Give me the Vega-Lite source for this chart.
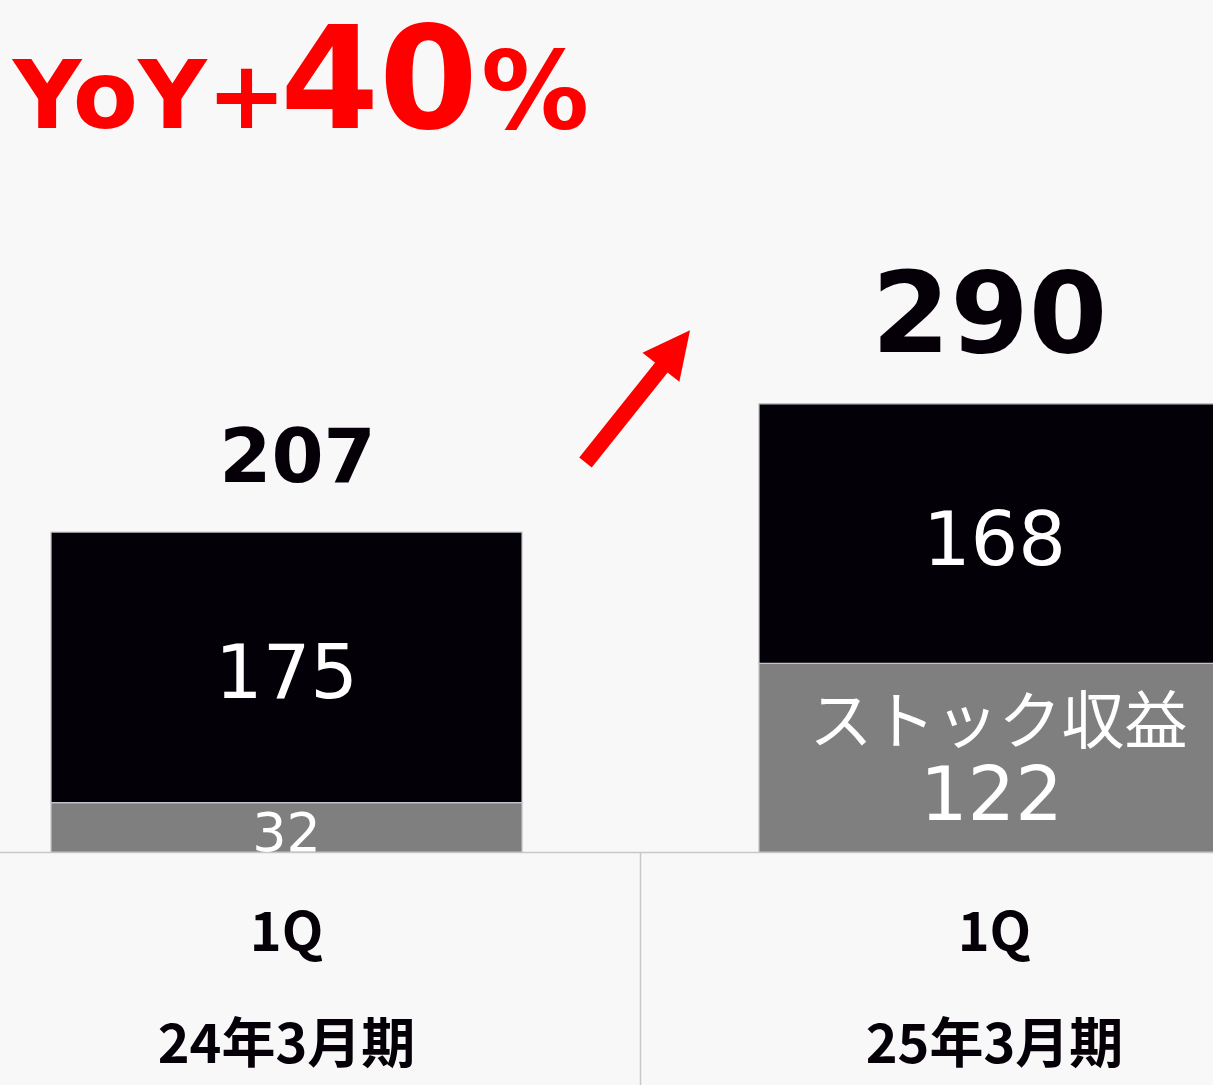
{
  "$schema": "https://vega.github.io/schema/vega-lite/v6.json",
  "width": 1213,
  "height": 852,
  "autosize": {"type": "none"},
  "padding": {"left": 0, "top": 0, "right": 0, "bottom": 233},
  "background": "#f8f8f8",
  "config": {"view": {"stroke": null}},
  "data": {
    "values": [
      {"fy": "24年3月期", "q": "1Q", "series": "ストック収益", "value": 32, "order": 1},
      {"fy": "24年3月期", "q": "1Q", "series": "フロー収益", "value": 175, "order": 2},
      {"fy": "25年3月期", "q": "1Q", "series": "ストック収益", "value": 122, "order": 1},
      {"fy": "25年3月期", "q": "1Q", "series": "フロー収益", "value": 168, "order": 2}
    ]
  },
  "layer": [
    {
      "encoding": {
        "x": {
          "field": "fy", "type": "nominal", "sort": ["24年3月期", "25年3月期"], "title": null,
          "scale": {"range": [-67.5, 1348.5], "paddingInner": 0.3347, "paddingOuter": 0.1674},
          "axis": {
            "labelExpr": "['1Q', datum.label]", "labelAngle": 0, "labelFontSize": 54,
            "labelFont": "Noto Sans CJK JP", "labelFontWeight": "bold", "labelColor": "#050008",
            "labelLineHeight": 112, "labelBaseline": "top", "labelPadding": 55,
            "ticks": false, "domainColor": "#c8c8cc", "domainWidth": 1.5, "labelLimit": 0, "grid": false
          }
        }
      },
      "layer": [
        {
          "mark": {"type": "bar", "stroke": "#c4c4c8", "strokeWidth": 1.2},
          "encoding": {
            "y": {"field": "value", "type": "quantitative", "stack": "zero", "axis": null, "scale": {"domain": [0, 551.3], "nice": false}},
            "color": {"field": "series", "type": "nominal", "legend": null, "scale": {"domain": ["ストック収益", "フロー収益"], "range": ["#7f7f7f", "#040008"]}},
            "order": {"field": "order", "type": "quantitative"}
          }
        },
        {
          "transform": [{"filter": "datum.fy === '24年3月期'"}],
          "mark": {"type": "text", "baseline": "alphabetic", "dy": -50, "dx": 11, "font": "DejaVu Sans", "fontWeight": "bold", "fontSize": 75, "color": "#050008"},
          "encoding": {
            "y": {"aggregate": "sum", "field": "value", "type": "quantitative", "axis": null, "scale": {"domain": [0, 551.3], "nice": false}},
            "text": {"aggregate": "sum", "field": "value", "type": "quantitative"}
          }
        },
        {
          "transform": [{"filter": "datum.fy === '25年3月期'"}],
          "mark": {"type": "text", "baseline": "alphabetic", "dy": -52, "dx": -5, "font": "DejaVu Sans", "fontWeight": "bold", "fontSize": 113, "color": "#050008"},
          "encoding": {
            "y": {"aggregate": "sum", "field": "value", "type": "quantitative", "axis": null, "scale": {"domain": [0, 551.3], "nice": false}},
            "text": {"aggregate": "sum", "field": "value", "type": "quantitative"}
          }
        },
        {
          "mark": {"type": "text", "baseline": "middle", "dy": 8, "font": "DejaVu Sans", "color": "#ffffff"},
          "encoding": {
            "y": {"field": "value", "type": "quantitative", "stack": "zero", "bandPosition": 0.5, "axis": null, "scale": {"domain": [0, 551.3], "nice": false}},
            "order": {"field": "order", "type": "quantitative"},
            "text": {"condition": {"test": "datum.fy === '25年3月期' && datum.series === 'ストック収益'", "value": ""}, "field": "value", "type": "quantitative"},
            "size": {"condition": {"test": "datum.value < 50", "value": 54}, "value": 75}
          }
        },
        {
          "transform": [{"filter": "datum.fy === '25年3月期' && datum.series === 'ストック収益'"}],
          "encoding": {
            "y": {"field": "value", "type": "quantitative", "stack": "zero", "bandPosition": 0.5, "axis": null, "scale": {"domain": [0, 551.3], "nice": false}}
          },
          "layer": [
            {
              "mark": {"type": "text", "baseline": "middle", "dy": -34, "dx": 4, "font": "Noto Sans CJK JP", "fontSize": 63, "color": "#ffffff"},
              "encoding": {"text": {"field": "series", "type": "nominal"}}
            },
            {
              "mark": {"type": "text", "baseline": "middle", "dy": 39, "dx": -3, "font": "DejaVu Sans", "fontSize": 75, "color": "#ffffff"},
              "encoding": {"text": {"field": "value", "type": "quantitative"}}
            }
          ]
        }
      ]
    },
    {
      "data": {"values": [{"yoy": "YoY+", "pct": "40", "sign": "%"}]},
      "layer": [
        {
          "mark": {"type": "rule", "color": "#c8c8cc", "strokeWidth": 1.5},
          "encoding": {
            "x": {"datum": 0.5, "type": "quantitative", "axis": null, "scale": {"domain": [-0.5, 1.5], "range": [-67.5, 1348.5], "nice": false, "zero": false}},
            "y": {"datum": 0, "type": "quantitative", "axis": null, "scale": {"domain": [0, 551.3], "nice": false}},
            "y2": {"datum": -152}
          }
        },
        {
          "mark": {"type": "rule", "color": "#ff0000", "strokeWidth": 16, "strokeCap": "butt"},
          "encoding": {
            "x": {"datum": 0.4223, "type": "quantitative", "axis": null, "scale": {"domain": [-0.5, 1.5], "range": [-67.5, 1348.5], "nice": false, "zero": false}},
            "x2": {"datum": 0.5346},
            "y": {"datum": 252.1, "type": "quantitative", "axis": null, "scale": {"domain": [0, 551.3], "nice": false}},
            "y2": {"datum": 316.4}
          }
        },
        {
          "mark": {"type": "point", "shape": "M0,-1L1,1L-1,1Z", "filled": true, "color": "#ff0000", "opacity": 1, "size": 2209, "angle": 38.3, "strokeWidth": 0},
          "encoding": {
            "x": {"datum": 0.5494, "type": "quantitative", "axis": null, "scale": {"domain": [-0.5, 1.5], "range": [-67.5, 1348.5], "nice": false, "zero": false}},
            "y": {"datum": 325.6, "type": "quantitative", "axis": null, "scale": {"domain": [0, 551.3], "nice": false}}
          }
        },
        {
          "mark": {"type": "text", "align": "center", "baseline": "alphabetic", "font": "DejaVu Sans", "fontWeight": "bold", "fontSize": 95, "color": "#ff0000"},
          "encoding": {
            "x": {"datum": -0.1935, "type": "quantitative", "axis": null, "scale": {"domain": [-0.5, 1.5], "range": [-67.5, 1348.5], "nice": false, "zero": false}},
            "y": {"datum": 468.5, "type": "quantitative", "axis": null, "scale": {"domain": [0, 551.3], "nice": false}},
            "text": {"field": "yoy", "type": "nominal"}
          }
        },
        {
          "mark": {"type": "text", "align": "center", "baseline": "alphabetic", "font": "DejaVu Sans", "fontWeight": "bold", "fontSize": 142, "color": "#ff0000"},
          "encoding": {
            "x": {"datum": 0.1307, "type": "quantitative", "axis": null, "scale": {"domain": [-0.5, 1.5], "range": [-67.5, 1348.5], "nice": false, "zero": false}},
            "y": {"datum": 468.5, "type": "quantitative", "axis": null, "scale": {"domain": [0, 551.3], "nice": false}},
            "text": {"field": "pct", "type": "nominal"}
          }
        },
        {
          "mark": {"type": "text", "align": "center", "baseline": "alphabetic", "font": "DejaVu Sans", "fontWeight": "bold", "fontSize": 108, "color": "#ff0000"},
          "encoding": {
            "x": {"datum": 0.351, "type": "quantitative", "axis": null, "scale": {"domain": [-0.5, 1.5], "range": [-67.5, 1348.5], "nice": false, "zero": false}},
            "y": {"datum": 468.5, "type": "quantitative", "axis": null, "scale": {"domain": [0, 551.3], "nice": false}},
            "text": {"field": "sign", "type": "nominal"}
          }
        }
      ]
    }
  ],
  "resolve": {"scale": {"x": "independent"}}
}
